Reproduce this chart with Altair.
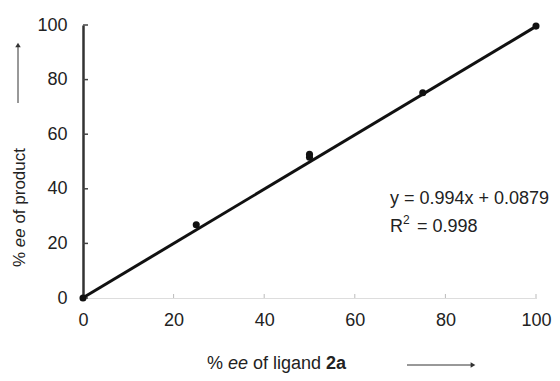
import altair as alt
import pandas as pd

# data
x_vals = [0, 25, 50, 50, 75, 100]
y_vals = [0, 26.8, 51.6, 52.6, 75.2, 99.6]
fit_x = [0, 100]
fit_y = [0.0879, 99.49]
tick_vals = [0, 20, 40, 60, 80, 100]
eq_line1 = "y = 0.994x + 0.0879"
eq_r = "R"
eq_sup = "2"
eq_r2 = "= 0.998"

pts = pd.DataFrame({"x": x_vals, "y": y_vals})
fit = pd.DataFrame({"x": fit_x, "y": fit_y})
ticks = pd.DataFrame({"v": tick_vals})

FONT = "Liberation Sans"
W, H = 453, 273

xs = alt.Scale(domain=[0, 100], nice=False, zero=False)
ys = alt.Scale(domain=[0, 100], nice=False, zero=False)

xaxis = alt.Axis(values=tick_vals, tickSize=0, labelPadding=13, labelFontSize=18,
                 labelFont=FONT, labelColor="#222", domainColor="#bbbbbb",
                 domainDash=[1, 1], domainWidth=1, grid=False, title=None,
                 labelFlush=False)
yaxis = alt.Axis(values=tick_vals, tickSize=0, labelPadding=16, labelFontSize=18,
                 labelFont=FONT, labelColor="#222", domainColor="#333333",
                 domainWidth=2.5, grid=False, title=None, labelFlush=False)

line = alt.Chart(fit).mark_line(color="#111", strokeWidth=3).encode(
    x=alt.X("x:Q", scale=xs, axis=xaxis),
    y=alt.Y("y:Q", scale=ys, axis=yaxis),
)

points = alt.Chart(pts).mark_circle(color="#111", size=50, opacity=1).encode(
    x=alt.X("x:Q", scale=xs),
    y=alt.Y("y:Q", scale=ys),
)

yticks = alt.Chart(ticks).mark_rule(color="#444", strokeWidth=1.5).encode(
    y=alt.Y("v:Q", scale=ys),
    x=alt.value(0),
    x2=alt.value(5),
)
xticks = alt.Chart(ticks).transform_filter("datum.v > 0").mark_rule(
    color="#bbbbbb", strokeWidth=1).encode(
    x=alt.X("v:Q", scale=xs),
    y=alt.value(H),
    y2=alt.value(H - 4),
)

def txt(s, x, y, size=18, style="normal", weight="normal", angle=0,
        baseline="alphabetic", align="left"):
    return alt.Chart(pd.DataFrame({"t": [s]})).mark_text(
        font=FONT, fontSize=size, fontStyle=style, fontWeight=weight,
        angle=angle, baseline=baseline, align=align, color="#222",
    ).encode(text="t:N", x=alt.value(x), y=alt.value(y))

# x-axis title: "% ee of ligand 2a"
xt0 = 124
xb = 344
xtitle = [
    txt("%", xt0, xb),
    txt("ee", xt0 + 21, xb, style="italic"),
    txt("of ligand", xt0 + 46, xb),
    txt("2a", xt0 + 119, xb, weight="bold"),
]
# y-axis title: "% ee of product" (rotated)
yt0 = 242
ytitle = [
    txt("%", -58, yt0, size=17, angle=270),
    txt("ee", -58, yt0 - 19.8, size=17, angle=270, style="italic"),
    txt("of product", -58, yt0 - 43.4, size=17, angle=270),
]

# arrows
dummy = pd.DataFrame({"a": [0]})
xarrow = alt.Chart(dummy).mark_rule(color="#333", strokeWidth=1).encode(
    x=alt.value(324), x2=alt.value(388), y=alt.value(340))
xhead = alt.Chart(dummy).mark_point(shape="triangle-right", filled=True,
                                    color="#333", size=30, opacity=1).encode(
    x=alt.value(390), y=alt.value(340))
yarrow = alt.Chart(dummy).mark_rule(color="#333", strokeWidth=1).encode(
    x=alt.value(-65), y=alt.value(78), y2=alt.value(22))
yhead = alt.Chart(dummy).mark_point(shape="triangle-up", filled=True,
                                    color="#333", size=30, opacity=1).encode(
    x=alt.value(-65), y=alt.value(20))

eq = [
    txt(eq_line1, 307, 179),
    txt(eq_r, 307, 207),
    txt(eq_sup, 320, 199, size=12),
    txt(eq_r2, 334, 207),
]

chart = alt.layer(
    xticks, yticks, line, points, *xtitle, *ytitle, xarrow, xhead, yarrow, yhead, *eq
).properties(
    width=W, height=H,
    autosize=alt.AutoSizeParams(type="none"),
    padding={"left": 75, "top": 17, "right": 16, "bottom": 75},
    background="white",
).configure_view(stroke=None)

chart.save("out.html", embed_options={"renderer": "svg", "actions": False})
